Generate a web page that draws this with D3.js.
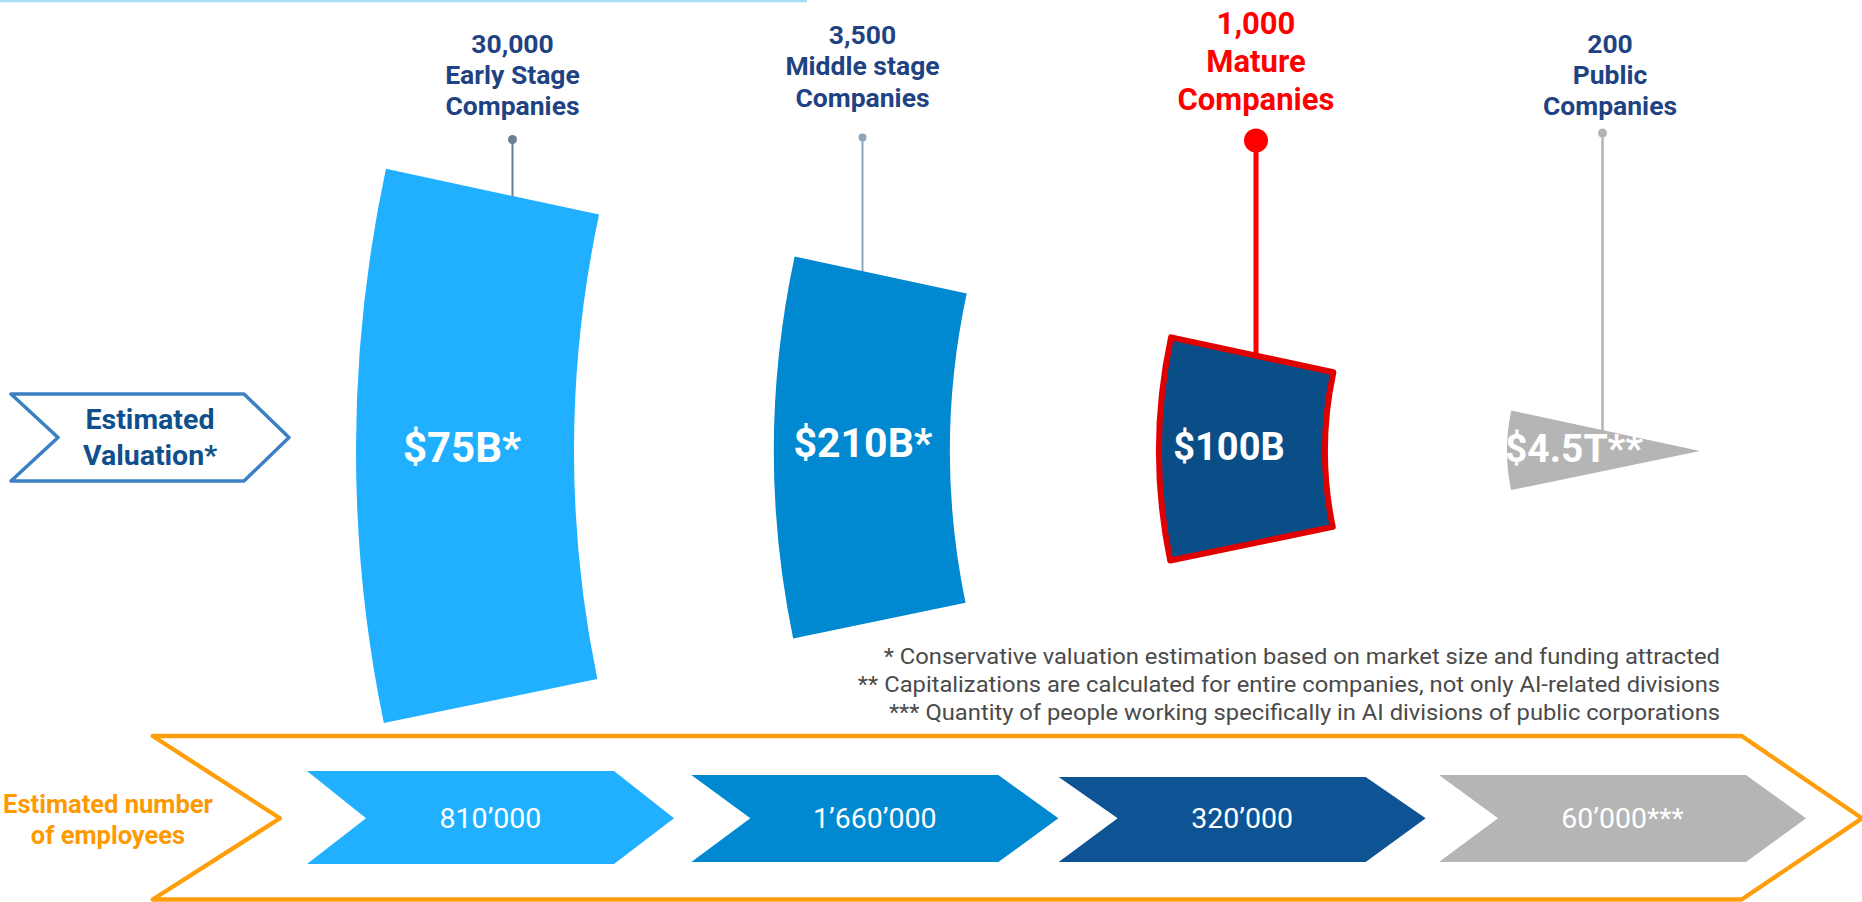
<!DOCTYPE html>
<html><head><meta charset="utf-8">
<script src="https://cdn.jsdelivr.net/npm/d3@7"></script>
<style>
html,body{margin:0;padding:0;background:#fff;overflow:hidden}
svg{display:block}
text{font-family:Roboto,"Noto Sans",sans-serif}
</style>
</head><body>
<svg id="chart" width="1862" height="902"></svg>
<script>
// ---------- DATA ----------
const stages = ["Early Stage", "Middle stage", "Mature", "Public"];
const companyCounts = [30000, 3500, 1000, 200];
const valuationLabels = ["$75B*", "$210B*", "$100B", "$4.5T**"];
const employeeCounts = [810000, 1660000, 320000, 60000];
const employeeNotes = ["", "", "", "***"];
const valuationTitle = ["Estimated", "Valuation*"];
const employeesTitle = ["Estimated number", "of employees"];
const footnotes = [
  "* Conservative valuation estimation based on market size and funding attracted",
  "** Capitalizations are calculated for entire companies, not only AI-related divisions",
  "*** Quantity of people working specifically in AI divisions of public corporations"
];

// ---------- LAYOUT / STYLE ----------
const W = 1862, H = 902;
const apex = {x: 1700, y: 451};
const halfAngle = 11.9 * Math.PI / 180;
const tilt = 0.22 * Math.PI / 180;
const outerRadius = [1344, 926, 541, 193];
const innerRadius = [1126, 750, 375, 0];
const shapeFill = ["#21b0ff", "#0088d1", "#0a4e87", "#b5b5b5"];
const chevFill = ["#21b0ff", "#0088d1", "#0e5394", "#b5b5b5"];
const pinX = [512.5, 862.5, 1256, 1602.5];
const pinTop = [139.5, 137.5, 140.5, 133];
const pinR = [4.5, 4, 12, 4.5];
const pinW = [2, 2, 5, 2.5];
const pinColor = ["#6c7f90", "#8fa6ba", "#ff0000", "#b3b3b3"];
const labelX = [512.5, 862.5, 1256, 1610];
const labelY0 = [52.5, 43.5, 33.5, 52.5];
const labelDy = [31.3, 31.7, 38.3, 31.3];
const labelSize = [26.5, 26.5, 31, 26.5];
const labelColor = ["#1f4382", "#1f4382", "#ff0000", "#1f4382"];
const valX = [462, 863, 1229, 1574];
const valY = [461.7, 456.7, 460, 461.7];
const valSize = [42, 41, 38, 39];
const chevTop = [771, 775, 777, 775];
const chevBot = [864, 862, 862, 862];
const chevNudge = [0, 7, -3, 0];

const svg = d3.select("#chart");

// top accent line
svg.append("line").attr("x1", 0).attr("x2", 807).attr("y1", 1).attr("y2", 1)
  .attr("stroke", "#a9dcf5").attr("stroke-width", 2.5);

// scales
const radiusOuter = d3.scaleOrdinal(stages, outerRadius);
const radiusInner = d3.scaleOrdinal(stages, innerRadius);
const fillScale = d3.scaleOrdinal(stages, shapeFill);
const chevScale = d3.scaleOrdinal(stages, chevFill);
const fmtCount = d3.format(",");
const locale = d3.formatLocale({decimal: ".", thousands: "\u2019", grouping: [3], currency: ["$", ""]});
const fmtEmp = locale.format(",");

const centerAngle = 1.5 * Math.PI + tilt;
const a0 = centerAngle - halfAngle, a1 = centerAngle + halfAngle;
const arc = d3.arc()
  .innerRadius(d => radiusInner(d))
  .outerRadius(d => radiusOuter(d))
  .startAngle(a0).endAngle(a1);

// pins (behind shapes)
const dirX = Math.sin(a1), dirY = -Math.cos(a1);
const pins = svg.append("g").selectAll("g").data(stages).join("g");
pins.append("line")
  .attr("x1", (d, i) => pinX[i]).attr("x2", (d, i) => pinX[i])
  .attr("y1", (d, i) => pinTop[i])
  .attr("y2", (d, i) => { const t = (pinX[i] - apex.x) / dirX; return apex.y + t * dirY + 4; })
  .attr("stroke", (d, i) => pinColor[i]).attr("stroke-width", (d, i) => pinW[i]);
pins.append("circle")
  .attr("cx", (d, i) => pinX[i]).attr("cy", (d, i) => pinTop[i]).attr("r", (d, i) => pinR[i])
  .attr("fill", (d, i) => pinColor[i]);

// funnel shapes
svg.append("g").attr("transform", `translate(${apex.x},${apex.y})`)
  .selectAll("path").data(stages).join("path")
  .attr("d", arc)
  .attr("fill", d => fillScale(d))
  .attr("stroke", d => d === "Mature" ? "#e00000" : "none")
  .attr("stroke-width", 6)
  .attr("stroke-linejoin", "round");

// stage labels
const lab = svg.append("g").selectAll("text").data(stages).join("text")
  .attr("text-anchor", "middle")
  .attr("font-weight", "bold")
  .attr("font-size", (d, i) => labelSize[i])
  .attr("fill", (d, i) => labelColor[i]);
lab.each(function(d, i) {
  const lines = [fmtCount(companyCounts[i]), d, "Companies"];
  d3.select(this).selectAll("tspan").data(lines).join("tspan")
    .attr("x", labelX[i])
    .attr("y", (l, k) => labelY0[i] + k * labelDy[i])
    .text(l => l);
});

// valuation labels
svg.append("g").selectAll("text").data(stages).join("text")
  .attr("x", (d, i) => valX[i]).attr("y", (d, i) => valY[i])
  .attr("text-anchor", "middle").attr("font-weight", "bold")
  .attr("font-size", (d, i) => valSize[i]).attr("fill", "#fff")
  .text((d, i) => valuationLabels[i]);

// Estimated valuation chevron
const vPts = [[11, 394], [244, 394], [289, 437.5], [244, 481], [11, 481], [58, 437.5]];
svg.append("path").attr("d", d3.line()(vPts) + "Z")
  .attr("fill", "#fff").attr("stroke", "#3b80c3").attr("stroke-width", 3.5).attr("stroke-linejoin", "round");
svg.append("text").attr("text-anchor", "middle").attr("font-weight", "bold").attr("font-size", 28.5)
  .attr("fill", "#0e4f8c")
  .selectAll("tspan").data(valuationTitle).join("tspan")
  .attr("x", 150).attr("y", (d, i) => 428.5 + i * 36.5).text(d => d);

// footnotes
svg.append("g").attr("transform", "translate(1720,0) scale(1.08,1)")
  .selectAll("text").data(footnotes).join("text")
  .attr("x", 0).attr("y", (d, i) => 664 + i * 28)
  .attr("text-anchor", "end").attr("font-size", 22).attr("fill", "#4a4a4a")
  .text(d => d);

// Employees outer chevron
const ePts = [[152.7, 736], [1741.7, 736], [1862, 818.3], [1741.7, 899.5], [152.7, 899.5], [280, 818.3]];
svg.append("path").attr("d", d3.line()(ePts) + "Z")
  .attr("fill", "none").attr("stroke", "#ff9e0b").attr("stroke-width", 4.3).attr("stroke-linejoin", "round");
svg.append("text").attr("text-anchor", "middle").attr("font-weight", "bold").attr("font-size", 25.5)
  .attr("fill", "#ff9900")
  .selectAll("tspan").data(employeesTitle).join("tspan")
  .attr("x", 108).attr("y", (d, i) => 813 + i * 31).text(d => d);

// employee chevrons
const xBand = d3.scaleBand().domain(stages).range([307, 1806]).paddingInner(0.0274);
const tip = 60, notch = 59, midY = 818.3;
const chev = svg.append("g").selectAll("g").data(stages).join("g");
chev.append("path")
  .attr("d", (d, i) => {
    const x0 = xBand(d) + chevNudge[i], bw = xBand.bandwidth();
    return d3.line()([[x0, chevTop[i]], [x0 + bw - tip, chevTop[i]], [x0 + bw, midY],
      [x0 + bw - tip, chevBot[i]], [x0, chevBot[i]], [x0 + notch, midY]]) + "Z";
  })
  .attr("fill", d => chevScale(d));
chev.append("text")
  .attr("x", (d, i) => xBand(d) + chevNudge[i] + xBand.bandwidth() / 2)
  .attr("y", 828)
  .attr("text-anchor", "middle").attr("font-size", 28.5).attr("fill", "#fff")
  .text((d, i) => fmtEmp(employeeCounts[i]) + employeeNotes[i]);
</script>
</body></html>
